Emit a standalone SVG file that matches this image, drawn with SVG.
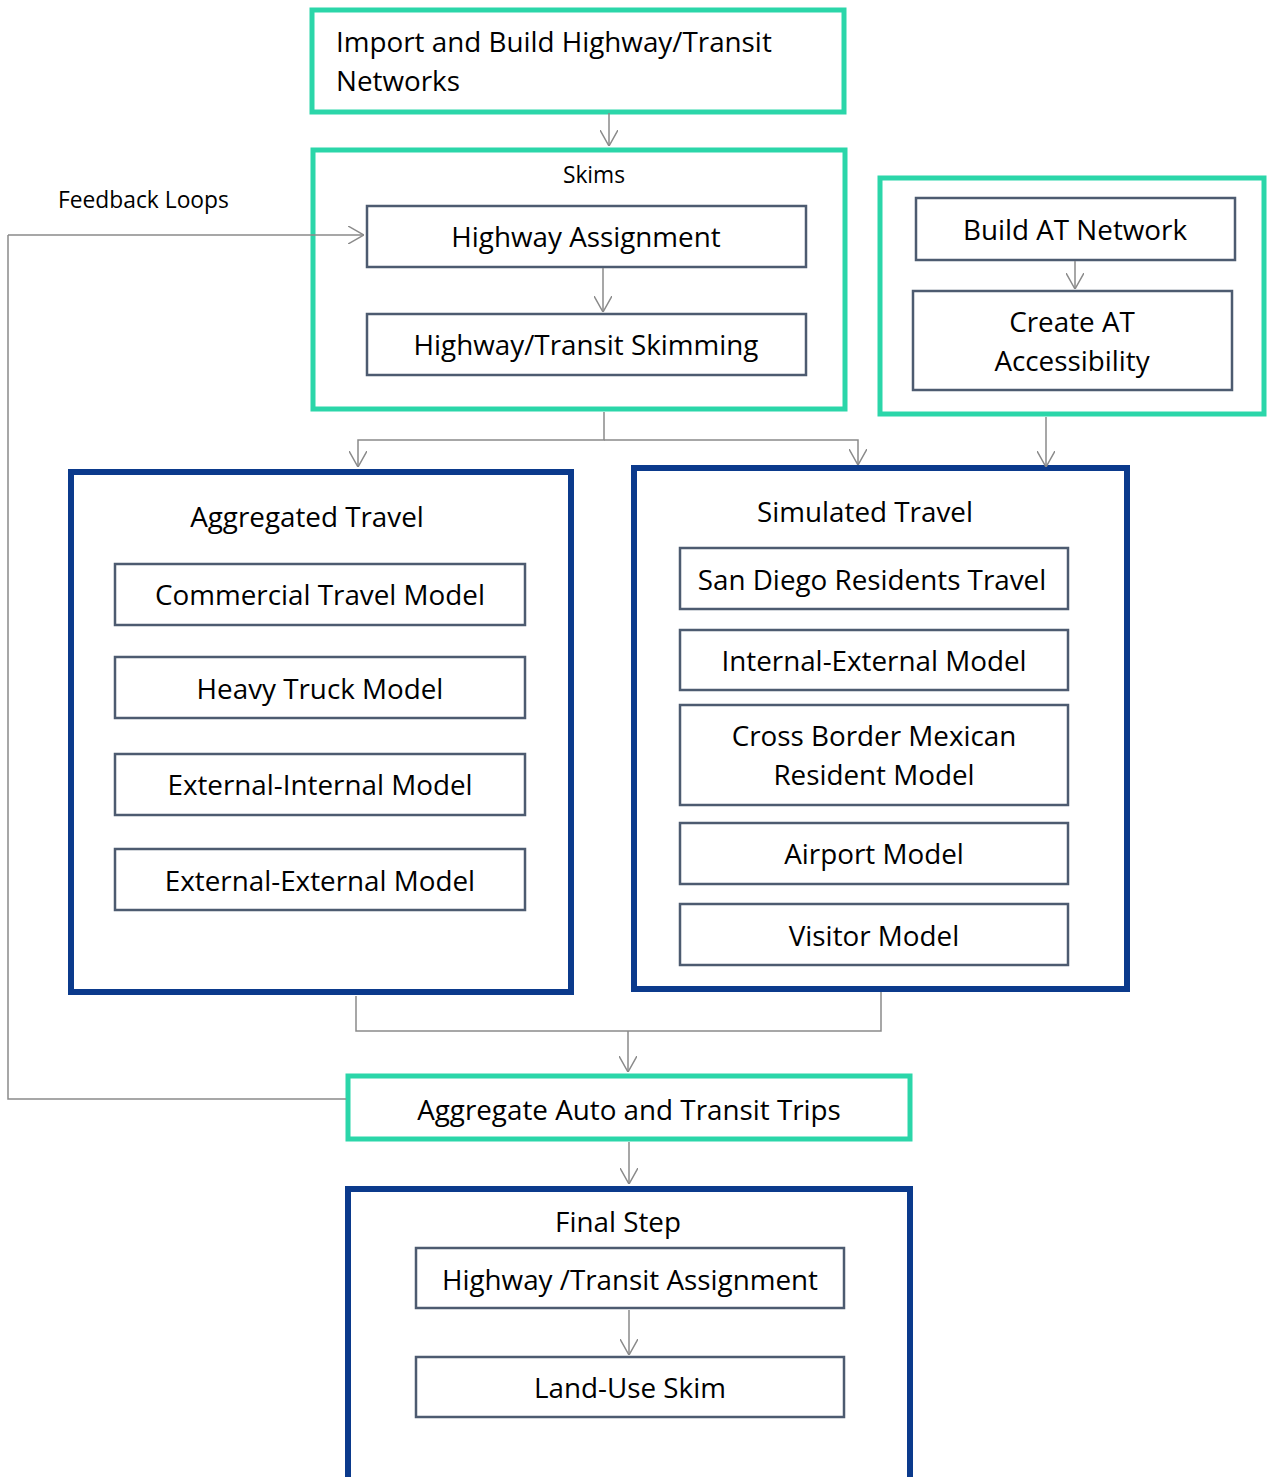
<svg xmlns="http://www.w3.org/2000/svg" width="1269" height="1477" viewBox="0 0 1269 1477">
<defs>
<marker id="arr" viewBox="0 0 16 18" refX="16" refY="9" markerWidth="16" markerHeight="18" markerUnits="userSpaceOnUse" orient="auto">
<path d="M0,0 L16,9 L0,18" fill="none" stroke="#8a8a8a" stroke-width="1.5"/>
</marker>
<style>
.teal{fill:#fff;stroke:#2bd6a9;stroke-width:5}
.blue{fill:#fff;stroke:#0b3a8c;stroke-width:6}
.inner{fill:#fff;stroke:#4d5b70;stroke-width:2.5}
.t{font-family:"Open Sans","Noto Sans",sans-serif;font-size:27.8px;fill:#000;text-anchor:middle}
.ts{font-family:"Open Sans","Noto Sans",sans-serif;font-size:22.8px;fill:#000}
.c{fill:none;stroke:#8a8a8a;stroke-width:1.5}
</style>
</defs>
<g id="import">
<rect class="teal" x="312" y="10" width="532" height="102"/>
<text class="t" x="336" y="52" style="text-anchor:start">Import and Build Highway/Transit</text>
<text class="t" x="336" y="91" style="text-anchor:start">Networks</text>
</g>
<g id="skims">
<rect class="teal" x="313" y="150" width="532" height="259"/>
<text class="ts" x="594" y="183" style="text-anchor:middle">Skims</text>
</g>
<g id="feedback-label">
<text class="ts" x="58" y="208">Feedback Loops</text>
</g>
<g id="highway-assignment">
<rect class="inner" x="367" y="206" width="439" height="61"/>
<text class="t" x="586" y="247">Highway Assignment</text>
</g>
<g id="skimming">
<rect class="inner" x="367" y="314" width="439" height="61"/>
<text class="t" x="586" y="355">Highway/Transit Skimming</text>
</g>
<g id="at">
<rect class="teal" x="880" y="178" width="384" height="236"/>
</g>
<g id="build-at">
<rect class="inner" x="916" y="198" width="319" height="62"/>
<text class="t" x="1075" y="240">Build AT Network</text>
</g>
<g id="create-at">
<rect class="inner" x="913" y="291" width="319" height="99"/>
<text class="t" x="1072" y="332">Create AT</text>
<text class="t" x="1072" y="371">Accessibility</text>
</g>
<g id="aggregated">
<rect class="blue" x="71" y="472" width="500" height="520"/>
<text class="t" x="307" y="527">Aggregated Travel</text>
</g>
<g id="commercial">
<rect class="inner" x="115" y="564" width="410" height="61"/>
<text class="t" x="320" y="605">Commercial Travel Model</text>
</g>
<g id="heavy-truck">
<rect class="inner" x="115" y="657" width="410" height="61"/>
<text class="t" x="320" y="699">Heavy Truck Model</text>
</g>
<g id="ext-int">
<rect class="inner" x="115" y="754" width="410" height="61"/>
<text class="t" x="320" y="795">External-Internal Model</text>
</g>
<g id="ext-ext">
<rect class="inner" x="115" y="849" width="410" height="61"/>
<text class="t" x="320" y="891">External-External Model</text>
</g>
<g id="simulated">
<rect class="blue" x="634" y="468" width="493" height="521"/>
<text class="t" x="865" y="522">Simulated Travel</text>
</g>
<g id="san-diego">
<rect class="inner" x="680" y="548" width="388" height="61"/>
<text class="t" x="872" y="590">San Diego Residents Travel</text>
</g>
<g id="int-ext">
<rect class="inner" x="680" y="630" width="388" height="60"/>
<text class="t" x="874" y="671">Internal-External Model</text>
</g>
<g id="cross-border">
<rect class="inner" x="680" y="705" width="388" height="100"/>
<text class="t" x="874" y="746">Cross Border Mexican</text>
<text class="t" x="874" y="785">Resident Model</text>
</g>
<g id="airport">
<rect class="inner" x="680" y="823" width="388" height="61"/>
<text class="t" x="874" y="864">Airport Model</text>
</g>
<g id="visitor">
<rect class="inner" x="680" y="904" width="388" height="61"/>
<text class="t" x="874" y="946">Visitor Model</text>
</g>
<g id="aggregate-trips">
<rect class="teal" x="348" y="1076" width="562" height="63"/>
<text class="t" x="629" y="1120">Aggregate Auto and Transit Trips</text>
</g>
<g id="final">
<rect class="blue" x="348" y="1189" width="562" height="292"/>
<text class="t" x="618" y="1232">Final Step</text>
</g>
<g id="final-assignment">
<rect class="inner" x="416" y="1248" width="428" height="60"/>
<text class="t" x="630" y="1290">Highway /Transit Assignment</text>
</g>
<g id="land-use">
<rect class="inner" x="416" y="1357" width="428" height="60"/>
<text class="t" x="630" y="1398">Land-Use Skim</text>
</g>
<g id="connectors">
<path class="c" d="M609,113 V146" marker-end="url(#arr)"/>
<path class="c" d="M8,235 H364" marker-end="url(#arr)"/>
<path class="c" d="M346,1099 H8 V235"/>
<path class="c" d="M603,268 V312" marker-end="url(#arr)"/>
<path class="c" d="M1075,261 V289" marker-end="url(#arr)"/>
<path class="c" d="M604,412 V440 H358 V467" marker-end="url(#arr)"/>
<path class="c" d="M604,440 H858 V465" marker-end="url(#arr)"/>
<path class="c" d="M1046,417 V467" marker-end="url(#arr)"/>
<path class="c" d="M356,996 V1031 H881 V992"/>
<path class="c" d="M628,1031 V1072" marker-end="url(#arr)"/>
<path class="c" d="M629,1142 V1184" marker-end="url(#arr)"/>
<path class="c" d="M629,1310 V1355" marker-end="url(#arr)"/>
</g>
</svg>
